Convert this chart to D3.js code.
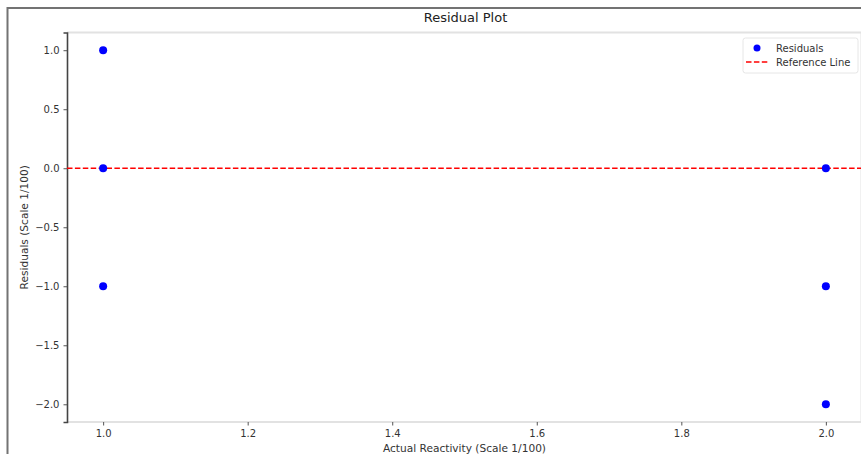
<!DOCTYPE html>
<html>
<head>
<meta charset="utf-8">
<script src="https://cdn.jsdelivr.net/npm/d3@7/dist/d3.min.js"></script>
<style>
  html, body { margin: 0; padding: 0; background: #fff; }
  svg { display: block; font-family: "DejaVu Sans", sans-serif; }
</style>
</head>
<body>
<svg id="chart" width="861" height="454"></svg>
<script>
// Residuals against actual reactivity, both on a 1/100 scale
const actual = [1, 1, 1, 2, 2, 2];
const residuals = [1, 0, -1, 0, -1, -2];
const referenceLevel = 0;
const xTicks = [1.0, 1.2, 1.4, 1.6, 1.8, 2.0];
const yTicks = [1.0, 0.5, 0.0, -0.5, -1.0, -1.5, -2.0];
const seriesNames = ["Residuals", "Reference Line"];

const svg = d3.select("#chart");
const W = 861, H = 454;
const m = { left: 67, right: 862, top: 32.5, bottom: 422 };

// outer figure frame
svg.append("rect")
  .attr("x", 7.5).attr("y", 8).attr("width", W + 10).attr("height", H + 10)
  .attr("fill", "none").attr("stroke", "#737373").attr("stroke-width", 2);

const xExt = d3.extent(actual), xPad = (xExt[1] - xExt[0]) * 0.05;
const yExt = d3.extent(residuals), yPad = (yExt[1] - yExt[0]) * 0.05;
const x = d3.scaleLinear().domain([xExt[0] - xPad, xExt[1] + xPad]).range([m.left, m.right]);
const y = d3.scaleLinear().domain([yExt[0] - yPad, yExt[1] + yPad]).range([m.bottom, m.top]);

// axes frame: dark left spine, light top/bottom/right
svg.append("line").attr("x1", m.left).attr("x2", m.right).attr("y1", m.top).attr("y2", m.top)
  .attr("stroke", "#e2e2e2").attr("stroke-width", 2);
svg.append("line").attr("x1", m.left).attr("x2", m.right).attr("y1", m.bottom).attr("y2", m.bottom)
  .attr("stroke", "#e2e2e2").attr("stroke-width", 2);
svg.append("line").attr("x1", m.right - 1).attr("x2", m.right - 1).attr("y1", m.top).attr("y2", m.bottom)
  .attr("stroke", "#e2e2e2").attr("stroke-width", 1);

const xAxis = svg.append("g").attr("transform", `translate(0,${m.bottom})`)
  .call(d3.axisBottom(x).tickValues(xTicks).tickFormat(d3.format(".1f")).tickSizeOuter(0).tickSize(3.5).tickPadding(4));
xAxis.select(".domain").remove();
xAxis.selectAll("line").attr("stroke", "#555");
xAxis.selectAll("text").attr("font-size", 10).attr("fill", "#333").attr("font-family", "DejaVu Sans");

const yAxis = svg.append("g").attr("transform", `translate(${m.left},0)`)
  .call(d3.axisLeft(y).tickValues(yTicks).tickFormat(d => d3.format(".1f")(d).replace("-", "\u2212")).tickSizeOuter(0).tickSize(3.5).tickPadding(4));
yAxis.select(".domain").attr("stroke", "#444").attr("stroke-width", 1.6);
yAxis.selectAll("line").attr("stroke", "#555");
yAxis.selectAll("text").attr("font-size", 10).attr("fill", "#333").attr("font-family", "DejaVu Sans");

// reference line
svg.append("line")
  .attr("x1", m.left).attr("x2", m.right)
  .attr("y1", y(referenceLevel)).attr("y2", y(referenceLevel))
  .attr("stroke", "#ff0000").attr("stroke-width", 1.5).attr("stroke-dasharray", "5.5,2.4");

// residual points
svg.append("g").selectAll("circle")
  .data(actual.map((a, i) => ({ a, r: residuals[i] })))
  .join("circle")
  .attr("cx", d => x(d.a)).attr("cy", d => y(d.r)).attr("r", 4)
  .attr("fill", "#0000ff");

// title and axis labels
svg.append("text").attr("x", (m.left + m.right) / 2 + 1).attr("y", 22)
  .attr("text-anchor", "middle").attr("font-size", 13).attr("fill", "#222")
  .text("Residual Plot");
svg.append("text").attr("x", (m.left + m.right) / 2).attr("y", 452)
  .attr("text-anchor", "middle").attr("font-size", 10.6).attr("fill", "#333")
  .text("Actual Reactivity (Scale 1/100)");
svg.append("text")
  .attr("transform", `translate(28,${(m.top + m.bottom) / 2}) rotate(-90)`)
  .attr("text-anchor", "middle").attr("font-size", 10.6).attr("fill", "#333")
  .text("Residuals (Scale 1/100)");

// legend
const lg = svg.append("g").attr("transform", "translate(743,38)");
lg.append("rect").attr("x", 0).attr("y", 0).attr("width", 115).attr("height", 35).attr("rx", 2.5)
  .attr("fill", "#fff").attr("fill-opacity", 0.8).attr("stroke", "#e6e6e6");
lg.append("circle").attr("cx", 14).attr("cy", 10).attr("r", 3.5).attr("fill", "#0000ff");
lg.append("line").attr("x1", 3).attr("x2", 25).attr("y1", 24).attr("y2", 24)
  .attr("stroke", "#ff0000").attr("stroke-width", 1.5).attr("stroke-dasharray", "5.5,2.4");
lg.selectAll("text.item").data(seriesNames).join("text").attr("class", "item")
  .attr("x", 33).attr("y", (d, i) => 13.5 + i * 14)
  .attr("font-size", 10).attr("fill", "#333").text(d => d);
</script>
</body>
</html>
